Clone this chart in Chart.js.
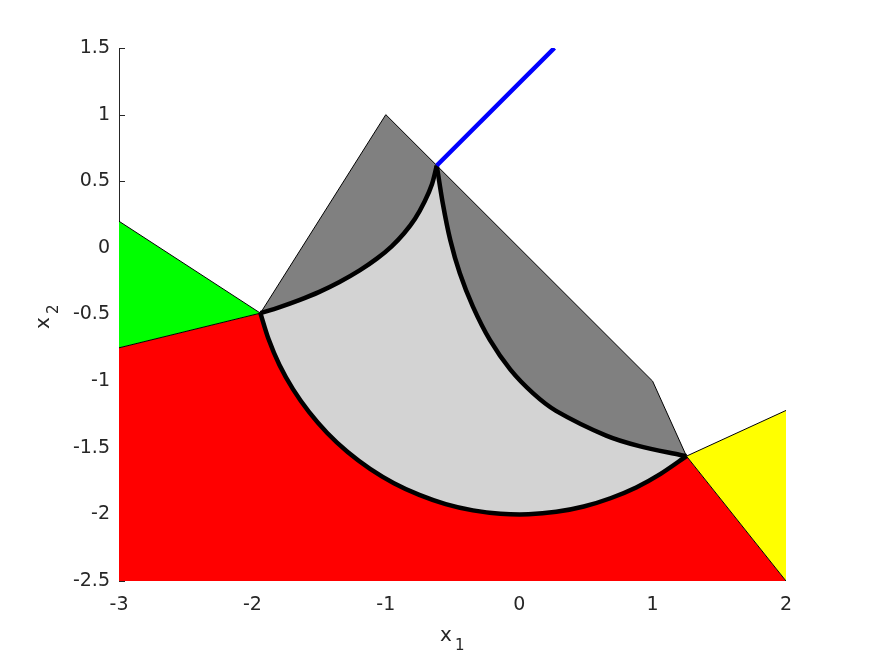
<!DOCTYPE html>
<html>
<head>
<meta charset="utf-8">
<script src="https://cdn.jsdelivr.net/npm/chart.js@4.4.1/dist/chart.umd.min.js"></script>
<style>
  html, body { margin: 0; padding: 0; background: #fff; }
  canvas { display: block; }
</style>
</head>
<body>
<canvas id="regionChart" width="875" height="656"></canvas>
<script>
// ---- ticks ----
const xTickValues = [-3, -2, -1, 0, 1, 2];
const xTickLabels = ['-3', '-2', '-1', '0', '1', '2'];
const yTickValues = [-2.5, -2, -1.5, -1, -0.5, 0, 0.5, 1, 1.5];
const yTickLabels = ['-2.5', '-2', '-1.5', '-1', '-0.5', '0', '0.5', '1', '1.5'];

// ---- regions ----
// green triangle on the left
const greenX = [-3, -1.94, -3];
const greenY = [0.2, -0.49, -0.75];
// yellow triangle on the right
const yellowX = [1.254, 2, 2];
const yellowY = [-1.563, -1.22, -2.5];
// dark gray outline: left junction -> peak -> top junction -> kink -> right junction
const darkX = [-1.94, -1.0, -0.618, 1.0, 1.254];
const darkY = [-0.49, 1.0, 0.618, -1.0, -1.563];
// red region corners, after the big arc
const redX = [2, -3, -3];
const redY = [-2.5, -2.5, -0.75];

// ---- curves ----
// big arc, left junction -> bottom -> right junction
const circX = [-1.94, -1.879, -1.798, -1.696, -1.576, -1.439, -1.286, -1.118, -0.939, -0.749, -0.551, -0.347, -0.14, 0.07, 0.278, 0.484, 0.684, 0.877, 1.06, 1.254];
const circY = [-0.49, -0.684, -0.877, -1.06, -1.231, -1.389, -1.532, -1.658, -1.766, -1.854, -1.923, -1.97, -1.995, -1.999, -1.981, -1.941, -1.879, -1.798, -1.696, -1.563];
// upper left curve, left junction -> top junction
const arcABX = [-1.94, -1.8, -1.649, -1.498, -1.347, -1.196, -1.065, -0.956, -0.863, -0.781, -0.709, -0.654, -0.618];
const arcABY = [-0.49, -0.446, -0.392, -0.33, -0.256, -0.169, -0.079, 0.012, 0.11, 0.219, 0.348, 0.478, 0.618];
// right curve, top junction -> right junction
const arcBCX = [-0.618, -0.573, -0.517, -0.445, -0.347, -0.22, -0.066, 0.105, 0.276, 0.652, 0.901, 1.201, 1.254];
const arcBCY = [0.618, 0.335, 0.06, -0.191, -0.441, -0.691, -0.914, -1.092, -1.223, -1.409, -1.488, -1.553, -1.563];
// blue ray
const rayX = [-0.618, 0.264];
const rayY = [0.618, 1.5];

const pts = (xs, ys) => xs.map((x, i) => ({ x: x, y: ys[i] }));
const rev = a => a.slice().reverse();

const circlePts = pts(circX, circY);
const redPoly = circlePts.concat(pts(redX, redY));
const darkPoly = pts(darkX, darkY).concat(rev(circlePts).slice(1));
const lightPoly = pts(arcABX, arcABY).concat(pts(arcBCX, arcBCY).slice(1), rev(circlePts).slice(1));

const INK = '#262626';

function area(data, color, order) {
  return { data: data, showLine: true, fill: 'shape', backgroundColor: color,
           borderWidth: 0, borderColor: color, pointRadius: 0, tension: 0, clip: 0, order: order };
}
function stroke(data, color, width, order, smooth) {
  return { data: data, showLine: true, fill: false, borderColor: color, borderWidth: width,
           pointRadius: 0, tension: smooth ? 0.3 : 0, clip: 0, order: order,
           borderCapStyle: 'butt', borderJoinStyle: 'round' };
}

const datasets = [
  area(redPoly, '#ff0000', 20),
  area(pts(greenX, greenY), '#00ff00', 19),
  area(pts(yellowX, yellowY), '#ffff00', 18),
  area(darkPoly, '#808080', 17),
  area(lightPoly, '#d3d3d3', 16),
  // thin edges
  stroke(pts([greenX[0], greenX[1]], [greenY[0], greenY[1]]), '#000', 1, 10),
  stroke(pts([greenX[2], greenX[1]], [greenY[2], greenY[1]]), '#000', 1, 10),
  stroke(pts([yellowX[0], yellowX[1]], [yellowY[0], yellowY[1]]), '#000', 1, 10),
  stroke(pts([yellowX[0], yellowX[2]], [yellowY[0], yellowY[2]]), '#000', 1, 10),
  stroke(pts(darkX, darkY), '#000', 1, 10),
  // thick boundaries
  stroke(circlePts, '#000', 4.5, 5, true),
  stroke(pts(arcABX, arcABY), '#000', 4.5, 5, true),
  stroke(pts(arcBCX, arcBCY), '#000', 4.5, 5, true),
  stroke(pts(rayX, rayY), '#0000ff', 4.5, 1)
];

// inward y ticks (under the patches) and subscripted axis titles
const axisExtras = {
  id: 'axisExtras',
  beforeDatasetsDraw(chart) {
    const ctx = chart.ctx;
    const ys = chart.scales.y;
    const left = chart.chartArea.left;
    ctx.save();
    ctx.strokeStyle = INK;
    ctx.lineWidth = 1;
    yTickValues.forEach(v => {
      const py = Math.round(ys.getPixelForValue(v)) + 0.5;
      ctx.beginPath();
      ctx.moveTo(left, py);
      ctx.lineTo(left + 6, py);
      ctx.stroke();
    });
    ctx.restore();
  },
  afterDraw(chart) {
    const ctx = chart.ctx;
    ctx.save();
    ctx.fillStyle = INK;
    ctx.textBaseline = 'alphabetic';
    ctx.textAlign = 'left';
    // x label
    ctx.font = '20px "DejaVu Sans"';
    ctx.fillText('x', 440, 641);
    ctx.font = '15px "DejaVu Sans"';
    ctx.fillText('1', 455, 650);
    // y label
    ctx.translate(49, 317);
    ctx.rotate(-Math.PI / 2);
    ctx.font = '20px "DejaVu Sans"';
    ctx.fillText('x', -12, 0);
    ctx.font = '15px "DejaVu Sans"';
    ctx.fillText('2', 3, 9);
    ctx.restore();
  }
};

const tickFont = { family: 'DejaVu Sans', size: 19 };

new Chart(document.getElementById('regionChart'), {
  type: 'scatter',
  data: { datasets: datasets },
  options: {
    responsive: false,
    devicePixelRatio: 1,
    animation: false,
    layout: { padding: { top: 48, right: 89, left: 0, bottom: 0 } },
    plugins: { legend: { display: false }, tooltip: { enabled: false } },
    scales: {
      x: {
        type: 'linear', position: 'bottom', min: -3, max: 2,
        afterBuildTicks: s => { s.ticks = xTickValues.map(v => ({ value: v })); },
        afterFit: s => { s.height = 75; },
        ticks: { font: tickFont, color: INK, padding: 13, maxRotation: 0, autoSkip: false,
                 callback: v => xTickLabels[xTickValues.indexOf(v)] },
        grid: { drawOnChartArea: false, drawTicks: false },
        border: { display: false }
      },
      y: {
        type: 'linear', position: 'left', min: -2.5, max: 1.5, z: 1,
        afterBuildTicks: s => { s.ticks = yTickValues.map(v => ({ value: v })); },
        afterFit: s => { s.width = 119; },
        ticks: { font: tickFont, color: INK, padding: 9, autoSkip: false,
                 callback: v => yTickLabels[yTickValues.indexOf(v)] },
        grid: { drawOnChartArea: false, drawTicks: false },
        border: { display: true, color: INK, width: 1 }
      }
    }
  },
  plugins: [axisExtras]
});
</script>
</body>
</html>
